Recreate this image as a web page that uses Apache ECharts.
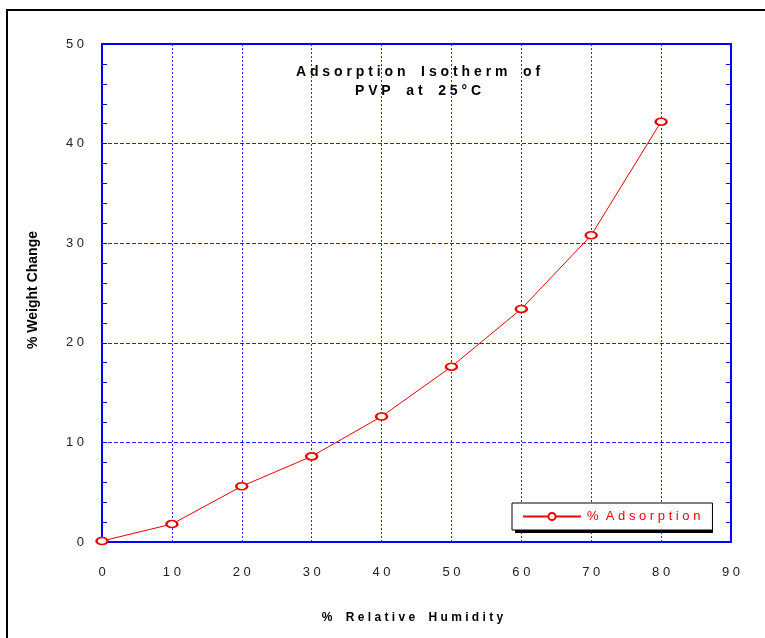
<!DOCTYPE html>
<html><head><meta charset="utf-8">
<script src="https://cdn.jsdelivr.net/npm/echarts@6/dist/echarts.min.js"></script>
<style>html,body{margin:0;padding:0;background:#fff}#c{width:765px;height:638px}</style>
</head><body><div id="c"></div>
<script>
const humidity = [0, 10, 20, 30, 40, 50, 60, 70, 80];
const adsorption = [0.1, 1.8, 5.6, 8.6, 12.6, 17.6, 23.4, 30.8, 42.2];
const titleLines = ['Adsorption Isotherm of', 'PVP at 25°C'];
const xName = '% Relative Humidity';
const yName = '% Weight Change';
const seriesName = '% Adsorption';

const sp = s => s.split('').join(' ').replace(/   /g, '    ');
const spL = s => s.split('').join(' ').replace(/   /g, '  ');
const blue = '#0000ff';
const chart = echarts.init(document.getElementById('c'));
chart.setOption({
  animation: false,
  title: {
    text: titleLines.map(sp).join('\n'),
    left: 413, top: 58, textAlign: 'center',
    textStyle: {fontFamily: 'Liberation Sans', fontWeight: 'bold', fontSize: 14, color: '#000', lineHeight: 19}
  },
  graphic: [
    {type: 'rect', shape: {x: 7, y: 10, width: 900, height: 800}, style: {fill: 'none', stroke: '#000', lineWidth: 2}, z: 100},
    {type: 'rect', shape: {x: 515, y: 506, width: 198, height: 27}, style: {fill: '#000'}, z: 3}
  ],
  grid: {left: 102, top: 44, width: 629, height: 498, show: true, borderColor: blue, borderWidth: 2, backgroundColor: 'transparent'},
  legend: {
    data: [seriesName],
    left: 512, top: 503, itemWidth: 58, itemHeight: 9,
    padding: [7, 12, 7, 10], itemGap: 0,
    backgroundColor: '#fff', borderColor: '#000', borderWidth: 1,
    formatter: n => spL(n),
    textStyle: {color: '#e00', fontFamily: 'Liberation Sans', fontSize: 13, padding: [0, 0, 0, 1]},
    z: 4
  },
  xAxis: {
    type: 'value', min: 0, max: 90, interval: 10,
    name: sp(xName), nameLocation: 'middle', nameGap: 70,
    nameTextStyle: {fontFamily: 'Liberation Sans', fontWeight: 'bold', fontSize: 12, color: '#000', padding: [0, 8, 0, 0]},
    axisLine: {lineStyle: {color: blue, width: 2}},
    axisTick: {show: false},
    axisLabel: {margin: 24, formatter: v => sp(String(v)), fontFamily: 'Liberation Sans', fontSize: 13, color: '#222'},
    splitLine: {show: true, lineStyle: {color: blue, width: 1, type: [2, 2], opacity: 0.85}}
  },
  yAxis: [{
    type: 'value', min: 0, max: 50, interval: 10,
    name: yName, nameLocation: 'middle', nameGap: 62, nameRotate: 90,
    nameTextStyle: {fontFamily: 'Liberation Sans', fontWeight: 'bold', fontSize: 14, color: '#000', padding: [0, 0, 0, 6]},
    axisLine: {lineStyle: {color: blue, width: 2}},
    axisTick: {show: true, inside: true, length: 5, lineStyle: {color: blue}},
    minorTick: {show: true, splitNumber: 5, length: 5, lineStyle: {color: blue}},
    axisLabel: {margin: 18, formatter: v => sp(String(v)), fontFamily: 'Liberation Sans', fontSize: 13, color: '#222'},
    splitLine: {show: true, lineStyle: {color: blue, width: 1, type: [4, 2], opacity: 0.85}}
  }, {
    type: 'value', min: 0, max: 50, interval: 10, position: 'right',
    axisLine: {show: true, lineStyle: {color: blue, width: 2}},
    axisTick: {show: true, inside: true, length: 5, lineStyle: {color: blue}},
    minorTick: {show: true, splitNumber: 5, length: 5, lineStyle: {color: blue}},
    axisLabel: {show: false}, splitLine: {show: false}
  }],
  series: [{
    name: seriesName, type: 'line',
    data: humidity.map((x, i) => [x, adsorption[i]]),
    symbol: 'emptyCircle', symbolSize: [11, 7],
    lineStyle: {color: '#e00', width: 1},
    itemStyle: {color: '#e00', borderColor: '#e00', borderWidth: 1},
    z: 10
  }]
});
</script></body></html>
